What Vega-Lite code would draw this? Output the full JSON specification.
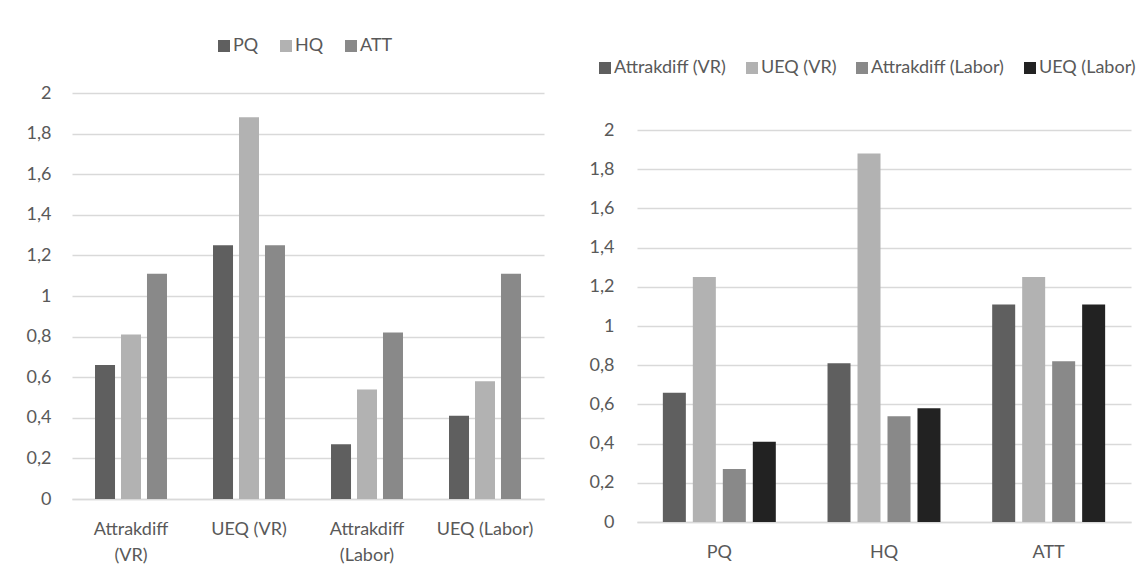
{
  "$schema": "https://vega.github.io/schema/vega-lite/v6.json",
  "background": "white",
  "padding": {"left": 26, "top": 37, "right": 5, "bottom": 5},
  "bounds": "flush",
  "spacing": 93,
  "config": {
    "font": "Lato",
    "view": {"stroke": null},
    "axis": {
      "labelFont": "Lato",
      "labelFontSize": 18,
      "labelColor": "#595959",
      "titleColor": "#595959",
      "gridColor": "#d9d9d9",
      "gridWidth": 1.3,
      "domainColor": "#d9d9d9",
      "domainWidth": 1.5,
      "ticks": false
    },
    "legend": {
      "labelFont": "Lato",
      "labelFontSize": 18,
      "labelColor": "#595959",
      "symbolType": "square",
      "symbolSize": 144,
      "symbolStrokeWidth": 0,
      "labelOffset": 0,
      "columnPadding": 14,
      "padding": 0
    }
  },
  "datasets": {
    "scores": [
      {"instrument": "Attrakdiff (VR)", "measure": "PQ", "value": 0.66},
      {"instrument": "Attrakdiff (VR)", "measure": "HQ", "value": 0.81},
      {"instrument": "Attrakdiff (VR)", "measure": "ATT", "value": 1.11},
      {"instrument": "UEQ (VR)", "measure": "PQ", "value": 1.25},
      {"instrument": "UEQ (VR)", "measure": "HQ", "value": 1.88},
      {"instrument": "UEQ (VR)", "measure": "ATT", "value": 1.25},
      {"instrument": "Attrakdiff (Labor)", "measure": "PQ", "value": 0.27},
      {"instrument": "Attrakdiff (Labor)", "measure": "HQ", "value": 0.54},
      {"instrument": "Attrakdiff (Labor)", "measure": "ATT", "value": 0.82},
      {"instrument": "UEQ (Labor)", "measure": "PQ", "value": 0.41},
      {"instrument": "UEQ (Labor)", "measure": "HQ", "value": 0.58},
      {"instrument": "UEQ (Labor)", "measure": "ATT", "value": 1.11}
    ]
  },
  "resolve": {
    "scale": {"color": "independent", "xOffset": "independent", "x": "independent", "y": "independent"},
    "legend": {"color": "independent"}
  },
  "hconcat": [
    {
      "width": 472,
      "height": 406,
      "data": {"name": "scores"},
      "mark": {"type": "bar"},
      "encoding": {
        "x": {
          "field": "instrument",
          "type": "nominal",
          "sort": ["Attrakdiff (VR)", "UEQ (VR)", "Attrakdiff (Labor)", "UEQ (Labor)"],
          "scale": {"paddingInner": 0.39, "paddingOuter": 0.195},
          "axis": {
            "title": null,
            "labelAngle": 0,
            "labelPadding": 21,
            "labelLineHeight": 26,
            "labelExpr": "indexof(datum.value, 'Attrakdiff') == 0 ? split(datum.value, ' ') : datum.value"
          }
        },
        "xOffset": {
          "field": "measure",
          "sort": ["PQ", "HQ", "ATT"],
          "scale": {"paddingInner": 0.23, "paddingOuter": 0}
        },
        "y": {
          "field": "value",
          "type": "quantitative",
          "scale": {"domain": [0, 2], "nice": false},
          "axis": {
            "title": null,
            "domain": false,
            "labelPadding": 21,
            "values": [0, 0.2, 0.4, 0.6, 0.8, 1, 1.2, 1.4, 1.6, 1.8, 2],
            "labelExpr": "replace(format(datum.value, '.1~f'), '.', ',')"
          }
        },
        "color": {
          "field": "measure",
          "type": "nominal",
          "sort": ["PQ", "HQ", "ATT"],
          "scale": {"domain": ["PQ", "HQ", "ATT"], "range": ["#5f5f5f", "#b2b2b2", "#898989"]},
          "legend": {"title": null, "orient": "none", "direction": "horizontal", "legendX": 143, "legendY": -56, "columnPadding": 18}
        }
      }
    },
    {
      "width": 494,
      "height": 429,
      "data": {"name": "scores"},
      "mark": {"type": "bar"},
      "encoding": {
        "x": {
          "field": "measure",
          "type": "nominal",
          "sort": ["PQ", "HQ", "ATT"],
          "scale": {"paddingInner": 0.314, "paddingOuter": 0.157},
          "axis": {"title": null, "labelAngle": 0, "labelPadding": 21}
        },
        "xOffset": {
          "field": "instrument",
          "sort": ["Attrakdiff (VR)", "UEQ (VR)", "Attrakdiff (Labor)", "UEQ (Labor)"],
          "scale": {"paddingInner": 0.233, "paddingOuter": 0}
        },
        "y": {
          "field": "value",
          "type": "quantitative",
          "scale": {"domain": [0, 2.189], "nice": false},
          "axis": {
            "title": null,
            "domain": false,
            "labelPadding": 23,
            "values": [0, 0.2, 0.4, 0.6, 0.8, 1, 1.2, 1.4, 1.6, 1.8, 2],
            "labelExpr": "replace(format(datum.value, '.1~f'), '.', ',')"
          }
        },
        "color": {
          "field": "instrument",
          "type": "nominal",
          "sort": ["Attrakdiff (VR)", "UEQ (VR)", "Attrakdiff (Labor)", "UEQ (Labor)"],
          "scale": {
            "domain": ["Attrakdiff (VR)", "UEQ (VR)", "Attrakdiff (Labor)", "UEQ (Labor)"],
            "range": ["#5f5f5f", "#b2b2b2", "#898989", "#222222"]
          },
          "legend": {"title": null, "orient": "none", "direction": "horizontal", "legendX": -41, "legendY": -34, "columnPadding": 16}
        }
      }
    }
  ]
}
